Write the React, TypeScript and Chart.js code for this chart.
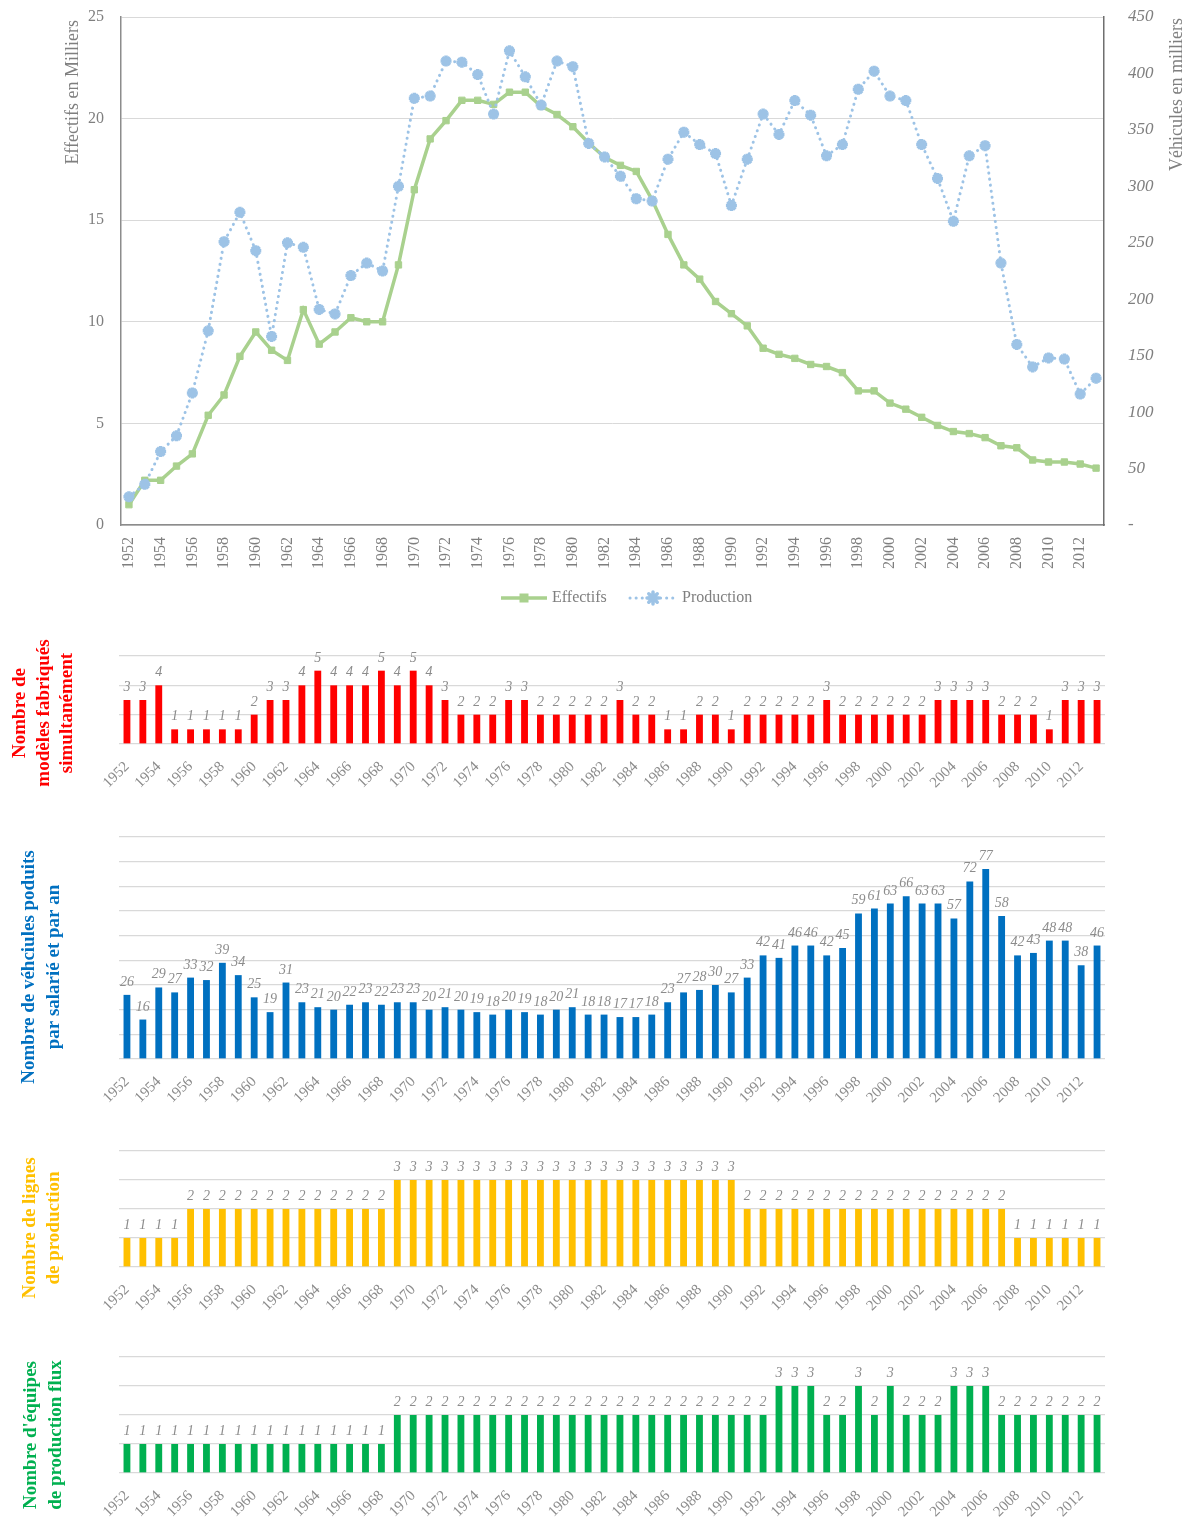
import React, { useEffect, useRef } from 'react';
import { Chart, registerables } from 'chart.js';

Chart.register(...registerables);

const SERIF = '"Liberation Serif", "Times New Roman", serif';
Chart.defaults.font.family = SERIF;

const years: string[] = [
  '1952', '1953', '1954', '1955', '1956', '1957', '1958', '1959', '1960', '1961',
  '1962', '1963', '1964', '1965', '1966', '1967', '1968', '1969', '1970', '1971',
  '1972', '1973', '1974', '1975', '1976', '1977', '1978', '1979', '1980', '1981',
  '1982', '1983', '1984', '1985', '1986', '1987', '1988', '1989', '1990', '1991',
  '1992', '1993', '1994', '1995', '1996', '1997', '1998', '1999', '2000', '2001',
  '2002', '2003', '2004', '2005', '2006', '2007', '2008', '2009', '2010', '2011',
  '2012', '2013',
];

// Effectifs (milliers) – left axis
const effectifs: number[] = [
  1.0, 2.2, 2.2, 2.9, 3.5, 5.4, 6.4, 8.3, 9.5, 8.6,
  8.1, 10.6, 8.9, 9.5, 10.2, 10.0, 10.0, 12.8, 16.5, 19.0,
  19.9, 20.9, 20.9, 20.7, 21.3, 21.3, 20.6, 20.2, 19.6, 18.8,
  18.1, 17.7, 17.4, 16.0, 14.3, 12.8, 12.1, 11.0, 10.4, 9.8,
  8.7, 8.4, 8.2, 7.9, 7.8, 7.5, 6.6, 6.6, 6.0, 5.7,
  5.3, 4.9, 4.6, 4.5, 4.3, 3.9, 3.8, 3.2, 3.1, 3.1,
  3.0, 2.8,
];

// Production (milliers de véhicules) – right axis
const production: number[] = [
  25, 36, 65, 79, 117, 172, 251, 277, 243, 167,
  250, 246, 191, 187, 221, 232, 225, 300, 378, 380,
  411, 410, 399, 364, 420, 397, 372, 411, 406, 338,
  326, 309, 289, 287, 324, 348, 337, 329, 283, 324,
  364, 346, 376, 363, 327, 337, 386, 402, 380, 376,
  337, 307, 269, 327, 336, 232, 160, 140, 148, 147,
  116, 130,
];

const modeles: number[] = [
  3, 3, 4, 1, 1, 1, 1, 1, 2, 3,
  3, 4, 5, 4, 4, 4, 5, 4, 5, 4,
  3, 2, 2, 2, 3, 3, 2, 2, 2, 2,
  2, 3, 2, 2, 1, 1, 2, 2, 1, 2,
  2, 2, 2, 2, 3, 2, 2, 2, 2, 2,
  2, 3, 3, 3, 3, 2, 2, 2, 1, 3,
  3, 3,
];

const vehiculesParSalarie: number[] = [
  26, 16, 29, 27, 33, 32, 39, 34, 25, 19,
  31, 23, 21, 20, 22, 23, 22, 23, 23, 20,
  21, 20, 19, 18, 20, 19, 18, 20, 21, 18,
  18, 17, 17, 18, 23, 27, 28, 30, 27, 33,
  42, 41, 46, 46, 42, 45, 59, 61, 63, 66,
  63, 63, 57, 72, 77, 58, 42, 43, 48, 48,
  38, 46,
];

const lignes: number[] = [
  1, 1, 1, 1, 2, 2, 2, 2, 2, 2,
  2, 2, 2, 2, 2, 2, 2, 3, 3, 3,
  3, 3, 3, 3, 3, 3, 3, 3, 3, 3,
  3, 3, 3, 3, 3, 3, 3, 3, 3, 2,
  2, 2, 2, 2, 2, 2, 2, 2, 2, 2,
  2, 2, 2, 2, 2, 2, 1, 1, 1, 1,
  1, 1,
];

const equipes: number[] = [
  1, 1, 1, 1, 1, 1, 1, 1, 1, 1,
  1, 1, 1, 1, 1, 1, 1, 2, 2, 2,
  2, 2, 2, 2, 2, 2, 2, 2, 2, 2,
  2, 2, 2, 2, 2, 2, 2, 2, 2, 2,
  2, 3, 3, 3, 2, 2, 3, 2, 3, 2,
  2, 2, 3, 3, 3, 2, 2, 2, 2, 2,
  2, 2,
];

const GRAY = '#7f7f7f';
const LABEL_GRAY = '#8c8c8c';
const GRID = '#d9d9d9';
const AXIS = '#8c8c8c';

type SideTitle = {
  lines: string[];
  xs: number[];
  y: number;
  font: string;
  color: string;
  align: CanvasTextAlign;
};

function sideTitles(id: string, items: SideTitle[]) {
  return {
    id,
    afterDraw(chart: any) {
      const ctx: CanvasRenderingContext2D = chart.ctx;
      items.forEach((it) => {
        it.lines.forEach((line, i) => {
          ctx.save();
          ctx.font = it.font;
          ctx.fillStyle = it.color;
          ctx.textAlign = it.align;
          ctx.textBaseline = 'middle';
          ctx.translate(it.xs[i], it.y);
          ctx.rotate(-Math.PI / 2);
          ctx.fillText(line, 0, 0);
          ctx.restore();
        });
      });
    },
  };
}

const valueLabels = {
  id: 'valueLabels',
  afterDatasetsDraw(chart: any) {
    const ctx: CanvasRenderingContext2D = chart.ctx;
    const meta = chart.getDatasetMeta(0);
    const data = chart.data.datasets[0].data;
    ctx.save();
    ctx.font = `italic 14px ${SERIF}`;
    ctx.fillStyle = LABEL_GRAY;
    ctx.textAlign = 'center';
    ctx.textBaseline = 'alphabetic';
    meta.data.forEach((el: any, i: number) => {
      ctx.fillText(String(data[i]), el.x, el.y - 9);
    });
    ctx.restore();
  },
};

const lineLegend = {
  id: 'lineLegend',
  afterDraw(chart: any) {
    const ctx: CanvasRenderingContext2D = chart.ctx;
    const ds = chart.data.datasets;
    const y = 598;
    ctx.save();
    // Effectifs
    ctx.strokeStyle = ds[0].borderColor;
    ctx.lineWidth = 3.5;
    ctx.beginPath();
    ctx.moveTo(501, y);
    ctx.lineTo(547, y);
    ctx.stroke();
    ctx.fillStyle = ds[0].borderColor;
    ctx.fillRect(519.5, y - 4.5, 9, 9);
    // Production
    ctx.strokeStyle = ds[1].borderColor;
    ctx.lineWidth = 3;
    ctx.lineCap = 'round';
    ctx.setLineDash([0.1, 6]);
    ctx.beginPath();
    ctx.moveTo(630, y);
    ctx.lineTo(677, y);
    ctx.stroke();
    ctx.setLineDash([]);
    ctx.lineWidth = 3.5;
    const cx = 653;
    const r = 6;
    ctx.beginPath();
    for (let k = 0; k < 4; k++) {
      const a = (k * Math.PI) / 4;
      ctx.moveTo(cx - r * Math.cos(a), y - r * Math.sin(a));
      ctx.lineTo(cx + r * Math.cos(a), y + r * Math.sin(a));
    }
    ctx.stroke();
    ctx.font = `16px ${SERIF}`;
    ctx.fillStyle = GRAY;
    ctx.textAlign = 'left';
    ctx.textBaseline = 'middle';
    ctx.fillText(ds[0].label, 552, y);
    ctx.fillText(ds[1].label, 682, y);
    ctx.restore();
  },
};

function evenYearTick(this: any, _v: any, i: number) {
  return i % 2 === 0 ? years[i] : '';
}

function noPad(s: any) {
  s.paddingTop = 0;
  s.paddingBottom = 0;
  s.paddingLeft = 0;
  s.paddingRight = 0;
}

function topConfig(): any {
  return {
    type: 'line',
    data: {
      labels: years,
      datasets: [
        {
          label: 'Effectifs',
          data: effectifs,
          yAxisID: 'y',
          borderColor: '#A9D18E',
          backgroundColor: '#A9D18E',
          borderWidth: 3.5,
          pointStyle: 'rect',
          pointRadius: 4.5,
          pointBackgroundColor: '#A9D18E',
          pointBorderColor: '#A9D18E',
          pointBorderWidth: 1,
          tension: 0,
          order: 2,
        },
        {
          label: 'Production',
          data: production,
          yAxisID: 'y1',
          borderColor: '#9DC3E6',
          backgroundColor: '#9DC3E6',
          borderWidth: 3,
          borderDash: [0.1, 6],
          borderCapStyle: 'round',
          pointStyle: 'star',
          pointRadius: 5.5,
          pointBorderWidth: 3.5,
          pointBorderColor: '#9DC3E6',
          pointBackgroundColor: '#9DC3E6',
          tension: 0,
          order: 1,
        },
      ],
    },
    options: {
      responsive: false,
      animation: false,
      layout: { padding: { top: 17, left: 0, right: 0, bottom: 0 } },
      plugins: { legend: { display: false }, tooltip: { enabled: false } },
      scales: {
        x: {
          offset: true,
          grid: { display: false },
          border: { display: true, color: AXIS, width: 1.5 },
          ticks: {
            autoSkip: false,
            minRotation: 90,
            maxRotation: 90,
            padding: 4,
            color: GRAY,
            font: { family: SERIF, size: 16 },
            callback: evenYearTick,
          },
          afterFit(s: any) { s.height = 100; noPad(s); },
        },
        y: {
          position: 'left',
          min: 0,
          max: 25,
          ticks: { stepSize: 5, padding: 17, color: GRAY, font: { family: SERIF, size: 16 } },
          grid: { color: GRID, drawTicks: false },
          border: { color: AXIS, width: 1.5 },
          afterFit(s: any) { s.width = 121; noPad(s); },
        },
        y1: {
          position: 'right',
          min: 0,
          max: 450,
          ticks: {
            stepSize: 50,
            padding: 24,
            color: GRAY,
            font: { family: SERIF, size: 17, style: 'italic' },
            callback: (v: number) => (v === 0 ? '-' : String(v)),
          },
          grid: { drawOnChartArea: false, drawTicks: false },
          border: { color: '#6f6f6f', width: 1.5, dash: [2, 2] },
          afterFit(s: any) { s.width = 88; noPad(s); },
        },
      },
    },
    plugins: [
      sideTitles('topTitles', [
        { lines: ['Effectifs en Milliers'], xs: [73], y: 20, font: `18px ${SERIF}`, color: GRAY, align: 'right' },
        { lines: ['Véhicules en milliers'], xs: [1177], y: 18, font: `18px ${SERIF}`, color: GRAY, align: 'right' },
      ]),
      lineLegend,
    ],
  };
}

function barConfig(
  id: string,
  values: number[],
  color: string,
  max: number,
  step: number,
  areaTop: number,
  xHeight: number,
  title: SideTitle,
): any {
  return {
    type: 'bar',
    data: {
      labels: years,
      datasets: [
        {
          data: values,
          backgroundColor: color,
          barPercentage: 0.43,
          categoryPercentage: 1,
        },
      ],
    },
    options: {
      responsive: false,
      animation: false,
      layout: { padding: { top: areaTop, right: 87, left: 0, bottom: 0 } },
      plugins: { legend: { display: false }, tooltip: { enabled: false } },
      scales: {
        x: {
          grid: { display: false },
          border: { display: false },
          ticks: {
            autoSkip: false,
            minRotation: 45,
            maxRotation: 45,
            padding: 6,
            color: LABEL_GRAY,
            font: { family: SERIF, size: 15 },
            callback: evenYearTick,
          },
          afterFit(s: any) { s.height = xHeight; noPad(s); },
        },
        y: {
          min: 0,
          max,
          ticks: { stepSize: step, display: false },
          grid: { color: GRID, drawTicks: false, lineWidth: 1.3 },
          border: { display: false },
          afterFit(s: any) { s.width = 119; noPad(s); },
        },
      },
    },
    plugins: [valueLabels, sideTitles(id, [title])],
  };
}

function Panel({ top, height, make }: { top: number; height: number; make: () => any }) {
  const ref = useRef<HTMLCanvasElement>(null);
  useEffect(() => {
    const chart = new Chart(ref.current as HTMLCanvasElement, make());
    return () => chart.destroy();
  }, []);
  return (
    <canvas
      ref={ref}
      width={1192}
      height={height}
      style={{ position: 'absolute', left: 0, top, width: 1192, height, display: 'block' }}
    />
  );
}

const boldTitle = `bold 19px ${SERIF}`;

export default function App() {
  return (
    <div style={{ position: 'absolute', left: 0, top: 0, width: 1192, height: 1517, background: '#fff', overflow: 'hidden' }}>
      <Panel top={0} height={625} make={topConfig} />
      <Panel
        top={625}
        height={180}
        make={() =>
          barConfig('t2', modeles, '#FF0000', 6, 2, 31, 61, {
            lines: ['Nombre de', 'modèles fabriqués', 'simultanément'],
            xs: [20, 44, 67],
            y: 88,
            font: boldTitle,
            color: '#FF0000',
            align: 'center',
          })
        }
      />
      <Panel
        top={805}
        height={330}
        make={() =>
          barConfig('t3', vehiculesParSalarie, '#0070C0', 90, 10, 32, 76, {
            lines: ['Nombre de véhciules poduits', 'par salarié et par an'],
            xs: [29, 54],
            y: 162,
            font: boldTitle,
            color: '#0070C0',
            align: 'center',
          })
        }
      />
      <Panel
        top={1135}
        height={205}
        make={() =>
          barConfig('t4', lignes, '#FFC000', 4, 1, 16, 73, {
            lines: ['Nombre de lignes', 'de production'],
            xs: [30, 54],
            y: 93,
            font: boldTitle,
            color: '#FFC000',
            align: 'center',
          })
        }
      />
      <Panel
        top={1340}
        height={177}
        make={() =>
          barConfig('t5', equipes, '#00B050', 4, 1, 17, 44, {
            lines: ["Nombre d'équipes", 'de production flux'],
            xs: [31, 56],
            y: 95,
            font: boldTitle,
            color: '#00B050',
            align: 'center',
          })
        }
      />
    </div>
  );
}
